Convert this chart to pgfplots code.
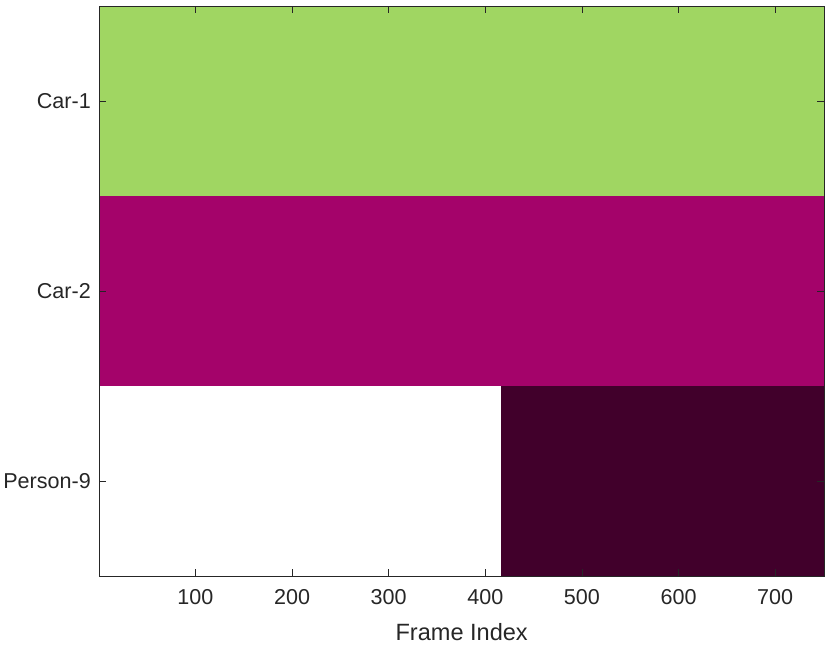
\documentclass[border=0pt]{standalone}
\usepackage{fontspec}
\setmainfont{Liberation Sans}
\usepackage{pgfplots}
\pgfplotsset{compat=1.18}
\definecolor{cCarA}{RGB}{160,214,98}
\definecolor{cCarB}{RGB}{164,3,106}
\definecolor{cPers}{RGB}{65,0,43}
\definecolor{axgray}{RGB}{38,38,38}
\begin{document}
\begin{tikzpicture}[font=\fontsize{21.5}{24}\selectfont]
\begin{axis}[
    scale only axis,
    width=723pt, height=569pt,
    xmin=0.5, xmax=750.5,
    ymin=0.5, ymax=3.5,
    y dir=reverse,
    xtick={100,200,...,700},
    ytick={1,2,3},
    yticklabels={Car-1,Car-2,Person-9},
    tick align=inside,
    major tick length=7pt,
    tick style={axgray, line width=0.8pt},
    axis line style={axgray, line width=0.8pt},
    ticklabel style={text=axgray},
    /pgf/number format/assume math mode=true,
    xticklabel style={yshift=-9.5pt},
    yticklabel style={xshift=-5pt},
    xlabel={Frame Index},
    xlabel style={font=\fontsize{23.5}{26}\selectfont, text=axgray,
      at={(axis description cs:0.5,0)}, anchor=center, yshift=-56pt},
    axis on top,
    clip=false,
]
% Car-1 active frames 1-750
\addplot[fill=cCarA, draw=none] coordinates {(0.5,0.5) (750.5,0.5) (750.5,1.5) (0.5,1.5)} -- cycle;
% Car-2 active frames 1-750
\addplot[fill=cCarB, draw=none] coordinates {(0.5,1.5) (750.5,1.5) (750.5,2.5) (0.5,2.5)} -- cycle;
% Person-9 active frames 417-750
\addplot[fill=cPers, draw=none] coordinates {(416.5,2.5) (750.5,2.5) (750.5,3.5) (416.5,3.5)} -- cycle;
% margins round the box
\path (axis description cs:1,1) ++(6pt,6pt);
\path (axis description cs:0,0) ++(0pt,-71pt);
\end{axis}
\end{tikzpicture}
\end{document}
